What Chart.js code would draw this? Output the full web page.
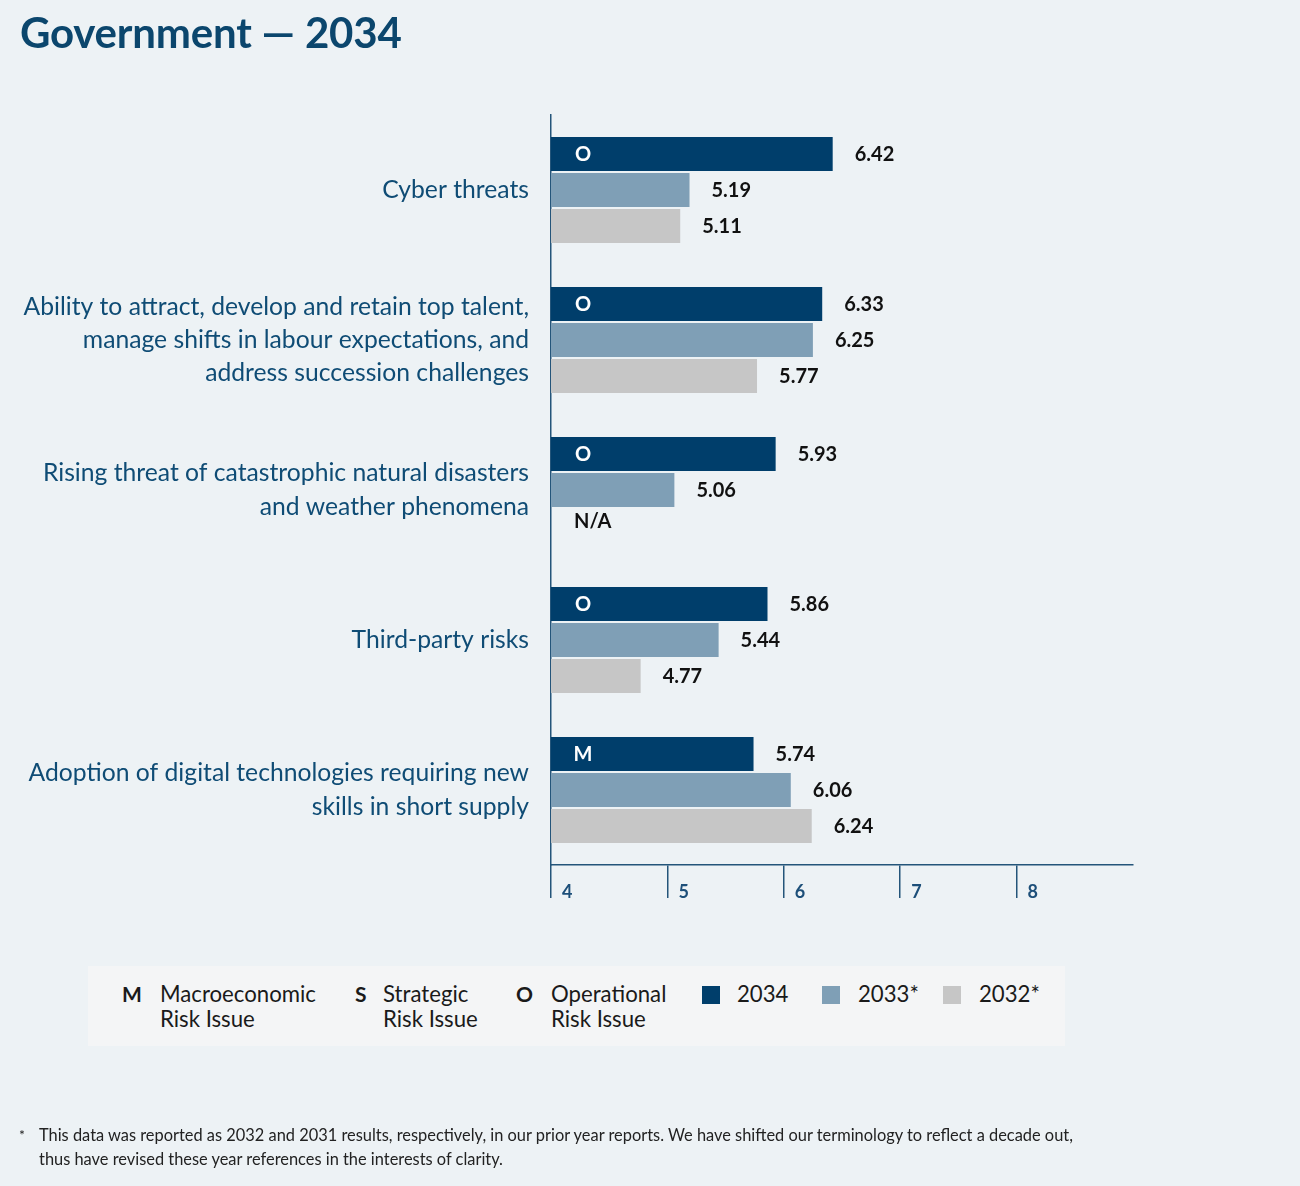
<!DOCTYPE html>
<html>
<head>
<meta charset="utf-8">
<script src="https://cdn.jsdelivr.net/npm/chart.js@4.4.1/dist/chart.umd.min.js"></script>
<style>
  html, body { margin: 0; padding: 0; background: #edf2f5; }
  body { width: 1300px; height: 1186px; position: relative; overflow: hidden; font-family: Lato, sans-serif; }
  #title { position: absolute; left: 20px; top: 7px; font-size: 42px; font-weight: 700; color: #0b466d; letter-spacing: -0.2px; }
  #wrap { position: absolute; left: 0; top: 0; width: 1300px; height: 1186px; }
  #legend { position: absolute; left: 88px; top: 966px; width: 977px; height: 80px; background: #f4f5f6; font-size: 22.2px; color: #1a1a1a; }
  .li { position: absolute; top: 15px; line-height: 25px; }
  .k { position: absolute; top: 15px; font-weight: 700; line-height: 25px; font-size: 21px; }
  .sw { position: absolute; top: 20px; width: 18px; height: 18px; }
  #foot { position: absolute; left: 0; top: 1123px; font-size: 16.4px; color: #222; line-height: 24px; }
  #foot .star { position: absolute; left: 19px; top: 0px; font-size: 14px; }
  #foot .txt { position: absolute; left: 39px; top: 0; width: 1200px; }
</style>
</head>
<body>
<div id="wrap"><canvas id="c" width="1300" height="1186"></canvas></div>
<div id="title">Government — 2034</div>
<div id="legend">
  <div class="k" style="left:34px">M</div><div class="li" style="left:72px">Macroeconomic<br>Risk Issue</div>
  <div class="k" style="left:267px">S</div><div class="li" style="left:295px">Strategic<br>Risk Issue</div>
  <div class="k" style="left:428px">O</div><div class="li" style="left:463px">Operational<br>Risk Issue</div>
  <div class="sw" style="left:614px;background:#003e6b"></div><div class="li" style="left:649px">2034</div>
  <div class="sw" style="left:734px;background:#7f9fb6"></div><div class="li" style="left:770px">2033*</div>
  <div class="sw" style="left:855px;background:#c6c6c6"></div><div class="li" style="left:891px">2032*</div>
</div>
<div id="foot"><span class="star">*</span><div class="txt">This data was reported as 2032 and 2031 results, respectively, in our prior year reports. We have shifted our terminology to reflect a decade out,<br>thus have revised these year references in the interests of clarity.</div></div>
<script>
const categories = [
  ["Cyber threats"],
  ["Ability to attract, develop and retain top talent,", "manage shifts in labour expectations, and", "address succession challenges"],
  ["Rising threat of catastrophic natural disasters", "and weather phenomena"],
  ["Third-party risks"],
  ["Adoption of digital technologies requiring new", "skills in short supply"]
];
const riskType = ["O", "O", "O", "O", "M"];
const values2034 = [6.42, 6.33, 5.93, 5.86, 5.74];
const values2033 = [5.19, 6.25, 5.06, 5.44, 6.06];
const values2032 = [5.11, 5.77, null, 4.77, 6.24];
const xTicks = [4, 5, 6, 7, 8];

const AXIS = '#24557a';

const labelPlugin = {
  id: 'valueLabels',
  afterDatasetsDraw(chart) {
    const ctx = chart.ctx;
    const area = chart.chartArea;
    ctx.save();
    chart.data.datasets.forEach((ds, di) => {
      const meta = chart.getDatasetMeta(di);
      meta.data.forEach((bar, i) => {
        const v = ds.data[i];
        ctx.font = '700 20px Lato';
        ctx.textBaseline = 'middle';
        ctx.textAlign = 'left';
        ctx.fillStyle = '#111';
        if (v === null || v === undefined) {
          const prev = chart.getDatasetMeta(di - 1).data[i];
          ctx.fillText('N/A', area.left + 23, prev.y + 32);
          return;
        }
        ctx.fillText(v.toFixed(2), bar.x + 22, bar.y + 1);
        if (di === 0) {
          ctx.fillStyle = '#ffffff';
          ctx.textAlign = 'center';
          ctx.fillText(riskType[i], area.left + 32, bar.y + 1);
        }
      });
    });
    ctx.restore();
  }
};

new Chart(document.getElementById('c'), {
  type: 'bar',
  data: {
    labels: categories,
    datasets: [
      { label: '2034', data: values2034, backgroundColor: '#003e6b' },
      { label: '2033*', data: values2033, backgroundColor: '#7f9fb6' },
      { label: '2032*', data: values2032, backgroundColor: '#c6c6c6' }
    ]
  },
  options: {
    indexAxis: 'y',
    responsive: false,
    animation: false,
    devicePixelRatio: 1,
    categoryPercentage: 0.72,
    barPercentage: 0.945,
    layout: { padding: { top: 115, right: 167, bottom: 281, left: 0 } },
    plugins: { legend: { display: false }, tooltip: { enabled: false } },
    scales: {
      x: {
        type: 'linear',
        min: 4, max: 9,
        afterBuildTicks(scale) { scale.ticks = xTicks.map(v => ({ value: v })); },
        afterFit(scale) { scale.height = 40; },
        border: { display: true, color: AXIS, width: 1.5 },
        grid: { drawOnChartArea: false, drawTicks: true, tickLength: 33, color: AXIS, lineWidth: 1.5 },
        ticks: {
          align: 'start', labelOffset: 11, padding: -17,
          color: '#1d4f79', font: { family: 'Lato', size: 18, weight: '700' }
        }
      },
      y: {
        afterFit(scale) { scale.width = 551; },
        border: { display: true, color: AXIS, width: 1.5 },
        grid: { display: false, drawTicks: false },
        ticks: {
          padding: 22,
          color: '#0f4c75',
          font: { family: 'Lato', size: 24.7, lineHeight: 1.34 }
        }
      }
    }
  },
  plugins: [labelPlugin]
});
</script>
</body>
</html>
